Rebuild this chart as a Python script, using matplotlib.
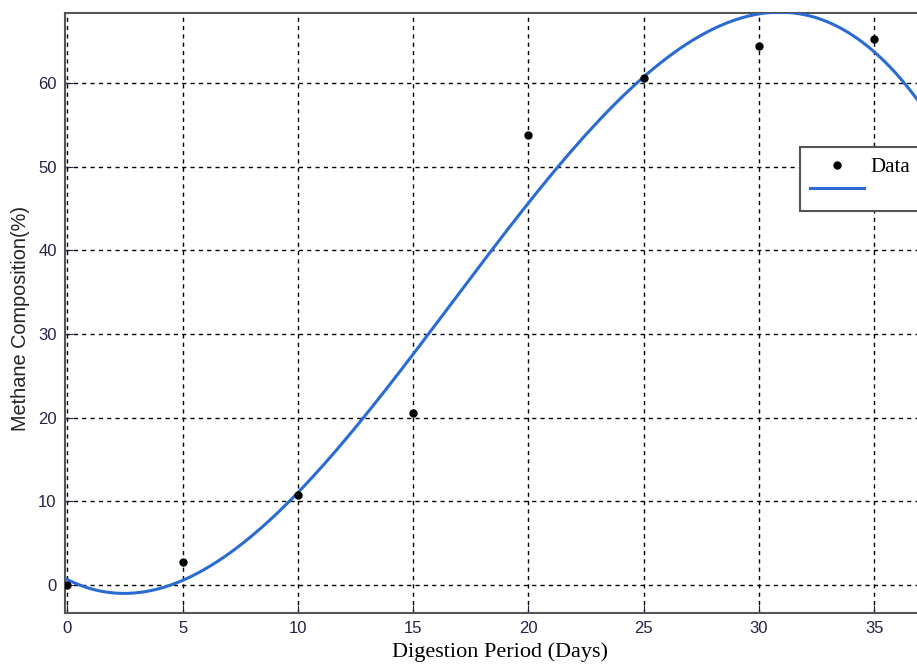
import matplotlib.pyplot as plt
from matplotlib.lines import Line2D
import numpy as np

# digestion days and measured methane composition
days = [0, 5, 10, 15, 20, 25, 30, 35]
methane = [0.0, 2.8, 10.8, 20.6, 53.8, 60.6, 64.4, 65.3]

xticks = [0, 5, 10, 15, 20, 25, 30, 35]
yticks = [0, 10, 20, 30, 40, 50, 60]

# cubic fit to the data
coef = np.polyfit(days, methane, 3)
xf = np.linspace(-0.5, 38, 400)
yf = np.polyval(coef, xf)

fig = plt.figure(figsize=(9.17, 6.66), dpi=100)
W, H = 917, 666
ax = fig.add_axes([65 / W, 1 - 613 / H, (935 - 65) / W, (613 - 13) / H])

ax.plot(xf, yf, color='#2a6bd1', lw=2.2, zorder=3)
ax.plot(days, methane, 'o', color='black', ms=5, zorder=4)

ax.set_xlim(-0.1, (935 - 67) / 23.06)
ax.set_ylim(-3.35, 68.4)
ax.set_xticks(xticks)
ax.set_yticks(yticks)
ax.grid(True, color='black', ls=(0, (3, 3)), lw=1)
ax.tick_params(direction='in', length=6, labelsize=12, colors='#222244', pad=6)
for t in ax.get_xticklabels() + ax.get_yticklabels():
    t.set_family('Liberation Sans')
for s in ax.spines.values():
    s.set_color('#555555')
    s.set_linewidth(1.5)

ax.set_xlabel('Digestion Period (Days)', family='Liberation Serif', fontsize=16, labelpad=4)
ax.set_ylabel('Methane Composition(%)', family='Liberation Sans', fontsize=14.3,
              color='#222222')
ax.yaxis.set_label_coords(-35 / 870, (613 - 318) / 600)

h1 = Line2D([], [], marker='o', ls='none', color='black', ms=5)
h2 = Line2D([], [], color='#2a6bd1', lw=2.2)
leg = fig.legend([h1, h2], ['Data', '           '], loc='upper left',
                 bbox_to_anchor=(800 / W, 1 - 147 / H), borderaxespad=0,
                 prop={'family': 'Liberation Serif', 'size': 15},
                 handlelength=2.55, handletextpad=0.35, borderpad=0.5,
                 fancybox=False, framealpha=1, edgecolor='#555555',
                 labelspacing=0.2)
leg.get_frame().set_linewidth(1.5)

fig.savefig('out.png', dpi=100)
